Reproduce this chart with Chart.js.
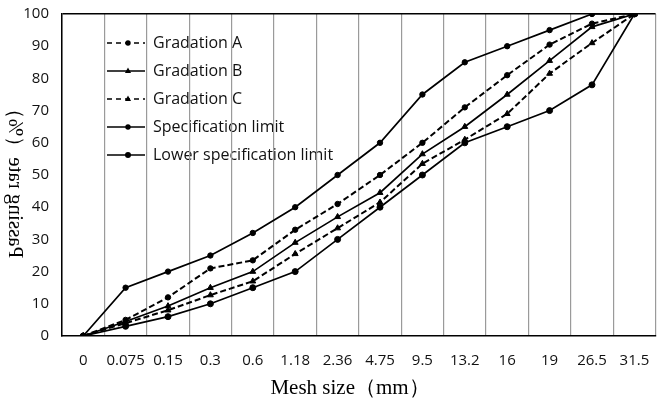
<!DOCTYPE html>
<html>
<head>
<meta charset="utf-8">
<script src="https://cdn.jsdelivr.net/npm/chart.js@4.4.1/dist/chart.umd.min.js"></script>
<style>
html,body{margin:0;padding:0;overflow:hidden;background:#fff;}
#wrap{width:660px;height:405px;}
</style>
</head>
<body>
<div id="wrap"><canvas id="c" width="660" height="405"></canvas></div>
<script>
const meshSizes = ['0','0.075','0.15','0.3','0.6','1.18','2.36','4.75','9.5','13.2','16','19','26.5','31.5'];
const gradationA = [0,5,12,21,23.5,33,41,50,60,71,81,90.5,97,100];
const gradationB = [0,4.5,9.3,15,20,29,37,44.5,56.5,65,75,85.5,96,100];
const gradationC = [0,4,8,12.7,17,25.5,33.5,41.5,53.5,61,69,81.5,91,100];
const upperLimit = [0,15,20,25,32,40,50,60,75,85,90,95,100,100];
const lowerLimit = [0,3,6,10,15,20,30,40,50,60,65,70,78,100];
const yTicks = [0,10,20,30,40,50,60,70,80,90,100];
const xTitle = 'Mesh size（mm）';
const yTitle = 'Passing rate（%）';

function ds(label, data, dash, style, r){
  return {label, data, borderColor:'#000', backgroundColor:'#000', borderWidth:dash.length?2:1.7,
    borderDash:dash, pointStyle:style, pointRadius:r, pointHoverRadius:r,
    pointBackgroundColor:'#000', pointBorderColor:'#000', pointBorderWidth:1, tension:0, fill:false};
}

function drawMarker(ctx, style, r, x, y){
  ctx.beginPath();
  if(style==='triangle'){
    ctx.moveTo(x, y-r); ctx.lineTo(x+r*0.9, y+r*0.6); ctx.lineTo(x-r*0.9, y+r*0.6); ctx.closePath();
  } else {
    ctx.arc(x,y,r,0,Math.PI*2);
  }
  ctx.fill();
}

const legendPlugin = {
  id:'customLegend',
  beforeDraw(chart){
    const ctx = chart.ctx;
    const x0=107, x1=145, xm=128, xt=153, y0=43, dy=28;
    chart.data.datasets.forEach((d,i)=>{
      const y = y0 + i*dy;
      ctx.save();
      ctx.strokeStyle='#000'; ctx.lineWidth=d.borderDash.length?1.6:1.3; ctx.setLineDash(d.borderDash.length?[5,4]:[]);
      ctx.beginPath(); ctx.moveTo(x0,y); ctx.lineTo(x1,y); ctx.stroke();
      ctx.setLineDash([]);
      ctx.fillStyle='#000';
      drawMarker(ctx, d.pointStyle, d.pointRadius, xm, y);
      ctx.font='16px "Open Sans"';
      ctx.textBaseline='middle'; ctx.textAlign='left';
      ctx.fillStyle='#111';
      ctx.fillText(d.label, xt, y);
      ctx.restore();
    });
  },
  afterDraw(chart){
    const ctx = chart.ctx;
    ctx.save();
    ctx.fillStyle='#000';
    ctx.font='21px "Liberation Serif"';
    ctx.textAlign='center'; ctx.textBaseline='middle';
    ctx.fillText(xTitle, 350, 388);
    ctx.translate(15,178);
    ctx.rotate(-Math.PI/2);
    ctx.scale(1,-1);
    ctx.fillText(yTitle, 0, 0);
    ctx.restore();
  }
};

new Chart(document.getElementById('c'), {
  type:'line',
  data:{
    labels: meshSizes,
    datasets:[
      ds('Gradation A', gradationA, [6,3], 'circle', 2.7),
      ds('Gradation B', gradationB, [], 'triangle', 3.4),
      ds('Gradation C', gradationC, [6,3], 'triangle', 3.4),
      ds('Specification limit', upperLimit, [], 'circle', 2.7),
      ds('Lower specification limit', lowerLimit, [], 'circle', 3)
    ]
  },
  options:{
    responsive:false, animation:false, devicePixelRatio:1,
    layout:{padding:{top:14,right:1,left:0,bottom:0}},
    plugins:{legend:{display:false}, tooltip:{enabled:false}},
    scales:{
      x:{
        offset:true,
        grid:{offset:true, color:'#9a9a9a', lineWidth:1.2, drawTicks:false},
        border:{color:'#000', width:1.5},
        ticks:{font:{family:'Open Sans', size:15}, color:'#111', padding:16, maxRotation:0, autoSkip:false},
        afterFit(s){ s.height = 69; s.paddingLeft = 0; s.paddingRight = 0; }
      },
      y:{
        min:0, max:100,
        afterBuildTicks(s){ s.ticks = yTicks.map(v=>({value:v})); },
        grid:{drawTicks:false, lineWidth:1.5, color:c=> c.tick && c.tick.value===100 ? '#000' : 'rgba(0,0,0,0)'},
        border:{color:'#000', width:1.5},
        ticks:{font:{family:'Open Sans', size:15}, color:'#111', padding:13},
        afterFit(s){ s.width = 62; s.paddingTop = 0; s.paddingBottom = 0; }
      }
    }
  },
  plugins:[legendPlugin]
});
</script>
</body>
</html>
